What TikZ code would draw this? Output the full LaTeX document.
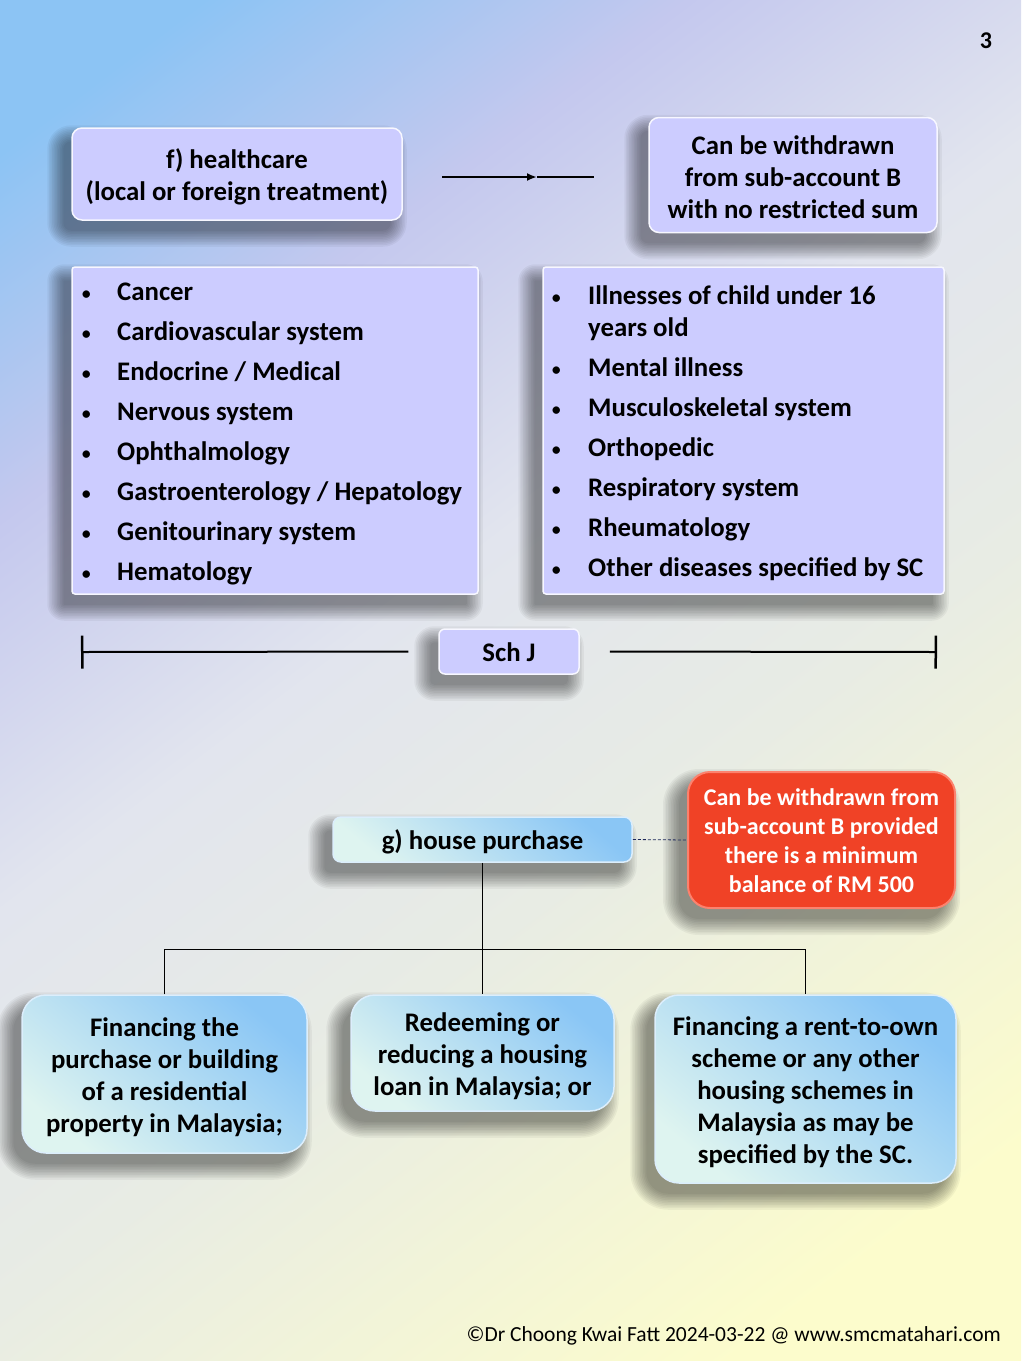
\documentclass[tikz,border=0pt]{standalone}
\usepackage{fontspec}
\setmainfont{Carlito}
\usetikzlibrary{arrows.meta}
\definecolor{bgB}{RGB}{140,196,244}
\definecolor{bgL}{RGB}{196,200,238}
\definecolor{bgG}{RGB}{226,229,238}
\definecolor{bgM}{RGB}{232,236,228}
\definecolor{bgY}{RGB}{252,252,204}
\definecolor{lavfill}{RGB}{204,204,255}
\definecolor{redfill}{RGB}{240,66,38}
\definecolor{redrim}{RGB}{252,130,110}
\definecolor{blueTop}{RGB}{138,198,245}
\definecolor{blueBot}{RGB}{222,244,240}
\definecolor{navy}{RGB}{30,40,90}
\pgfdeclareverticalshading{bgsh}{100bp}{color(0bp)=(bgY); color(22bp)=(bgY); color(42bp)=(bgM); color(55bp)=(bgG); color(68bp)=(bgL); color(80bp)=(bgB); color(100bp)=(bgB)}
\pgfdeclarelayer{bglayer}
\pgfdeclarelayer{shadowlayer}
\pgfsetlayers{bglayer,shadowlayer,main}
\newcommand\softshadow[2]{%
  \begin{pgfonlayer}{shadowlayer}
  \foreach \k in {0,...,10}{
    \pgfmathsetmacro\ee{1.6*\k-2}
    \fill[black,opacity=0.042,rounded corners=#2pt+\ee pt]
      ([shift={(-10-\ee,12-\ee)}]#1.north west) rectangle ([shift={(-10+\ee,12+\ee)}]#1.south east);
  }
  \end{pgfonlayer}}
\begin{document}
\begin{tikzpicture}[x=1pt,y=-1pt,
  lav/.style={draw=white!85!lavfill,line width=1.5pt,fill=lavfill,rounded corners=10pt},
  lavlist/.style={draw=white!85!lavfill,line width=1.5pt,fill=lavfill,rounded corners=3pt},
  bluebox/.style={draw=white!70!blueTop,line width=1.5pt,top color=blueTop,bottom color=blueBot,shading angle=-40,rounded corners=24pt},
  txt/.style={font=\bfseries\fontsize{26.8}{32}\selectfont,align=center,inner sep=0pt},
  item/.style={font=\bfseries\fontsize{26.8}{32}\selectfont,anchor=base west,inner sep=0pt},
  bul/.style={font=\fontsize{21}{32}\selectfont,anchor=base west,inner sep=0pt},
  conn/.style={line width=2pt,black}]
\useasboundingbox (0,0) rectangle (1021,1361);
\begin{pgfonlayer}{bglayer}
\shade[shading=bgsh,shading angle=37] (0,0) rectangle (1021,1361);
\end{pgfonlayer}

% page number
\node[font=\bfseries\fontsize{24}{24}\selectfont,inner sep=0pt] (pg) at (986,41) {3};

% f) healthcare
\node[lav,minimum width=330pt,minimum height=92pt] (fbox) at (237,174) {};
\node[txt] (fboxt) at ([yshift=-3pt]fbox.center) {f) healthcare\\(local or foreign treatment)};
\softshadow{fbox}{10}
\node[lav,minimum width=288pt,minimum height=115pt] (wbox) at (793,175) {};
\node[txt] (wboxt) at ([yshift=-2pt]wbox.center) {Can be withdrawn\\from sub-account B\\with no restricted sum};
\softshadow{wbox}{10}
\coordinate (ar1) at (442,177);
\coordinate (arm) at (537,177);
\coordinate (ar2) at (594,177);
\draw[conn,-{Latex[length=10pt,width=8pt]}] (ar1) -- (arm);
\draw[conn] (arm) -- (ar2);

% lists
\node[lavlist,minimum width=406pt,minimum height=327pt] (llist) at (275,430.5) {};
\softshadow{llist}{3}
\node[lavlist,minimum width=401pt,minimum height=327pt] (rlist) at (743.5,430.5) {};
\softshadow{rlist}{3}
\foreach \t [count=\i from 0] in {Cancer,Cardiovascular system,Endocrine / Medical,Nervous system,Ophthalmology,Gastroenterology / Hepatology,Genitourinary system,Hematology}{
  \node[bul] (lb\i) at (81,300+40*\i) {\textbullet};
  \node[item] (li\i) at (117,300+40*\i) {\t};
}
\node[bul] (rb0) at (551,304) {\textbullet};
\node[item] (ri0) at (588,304) {Illnesses of child under 16};
\node[item] (ri0b) at (588,336) {years old};
\foreach \t [count=\i from 1] in {Mental illness,Musculoskeletal system,Orthopedic,Respiratory system,Rheumatology,Other diseases specified by SC}{
  \node[bul] (rb\i) at (551,336+40*\i) {\textbullet};
  \node[item] (ri\i) at (588,336+40*\i) {\t};
}

% Sch J
\node[lav,rounded corners=6pt,minimum width=140pt,minimum height=45pt] (sj) at (509,651.5) {};
\node[txt] (sjt) at ([yshift=-1pt]sj.center) {Sch J};
\softshadow{sj}{6}
\coordinate (sjL) at (81,652);
\coordinate (sjR) at (937,652);
\draw[conn,{Bar[width=33pt,line width=2.5pt]}-,shorten >=30pt] (sjL) -- (sj.west);
\draw[conn,-{Bar[width=33pt,line width=2.5pt]},shorten <=30pt] (sj.east) -- (sjR);

% g) house purchase
\node[bluebox,rounded corners=8pt,minimum width=299pt,minimum height=45pt] (house) at (482.5,839.5) {};
\node[txt] (houset) at ([yshift=-2pt]house.center) {g) house purchase};
\softshadow{house}{8}
\node[draw=redrim,line width=2pt,fill=redfill,rounded corners=22pt,minimum width=267pt,minimum height=136pt] (red) at (821.5,840) {};
\node[font=\bfseries\fontsize{24}{29}\selectfont,align=center,inner sep=0pt,text=white] (redt) at ([yshift=-1pt]red.center)
      {Can be withdrawn from\\sub-account B provided\\there is a minimum\\balance of RM 500};
\softshadow{red}{22}
\draw[navy,line width=0.8pt,dash pattern=on 3pt off 2pt] (house.east) -- (red.west);

\node[bluebox,minimum width=285pt,minimum height=158pt] (b1) at (164.5,1074) {};
\node[txt] (b1t) at ([yshift=-3pt]b1.center) {Financing the\\purchase or building\\of a residential\\property in Malaysia;};
\softshadow{b1}{24}
\node[bluebox,minimum width=263pt,minimum height=116pt] (b2) at (482.5,1053) {};
\node[txt] (b2t) at ([yshift=-3pt]b2.center) {Redeeming or\\reducing a housing\\loan in Malaysia; or};
\softshadow{b2}{24}
\node[bluebox,minimum width=301pt,minimum height=188pt] (b3) at (805.5,1089) {};
\node[txt] (b3t) at ([yshift=-3pt]b3.center) {Financing a rent-to-own\\scheme or any other\\housing schemes in\\Malaysia as may be\\specified by the SC.};
\softshadow{b3}{24}
\coordinate (hbar) at (482.5,949);
\draw[line width=1pt] (house.south) -- (b2.north);
\draw[line width=1pt] (b1.north) |- (hbar) -| (b3.north);

% footer
\node[anchor=base east,inner sep=0pt,font=\fontsize{21.5}{21.5}\selectfont] (foot) at (1001,1341) {©Dr Choong Kwai Fatt 2024-03-22 @ www.smcmatahari.com};
\end{tikzpicture}
\end{document}
